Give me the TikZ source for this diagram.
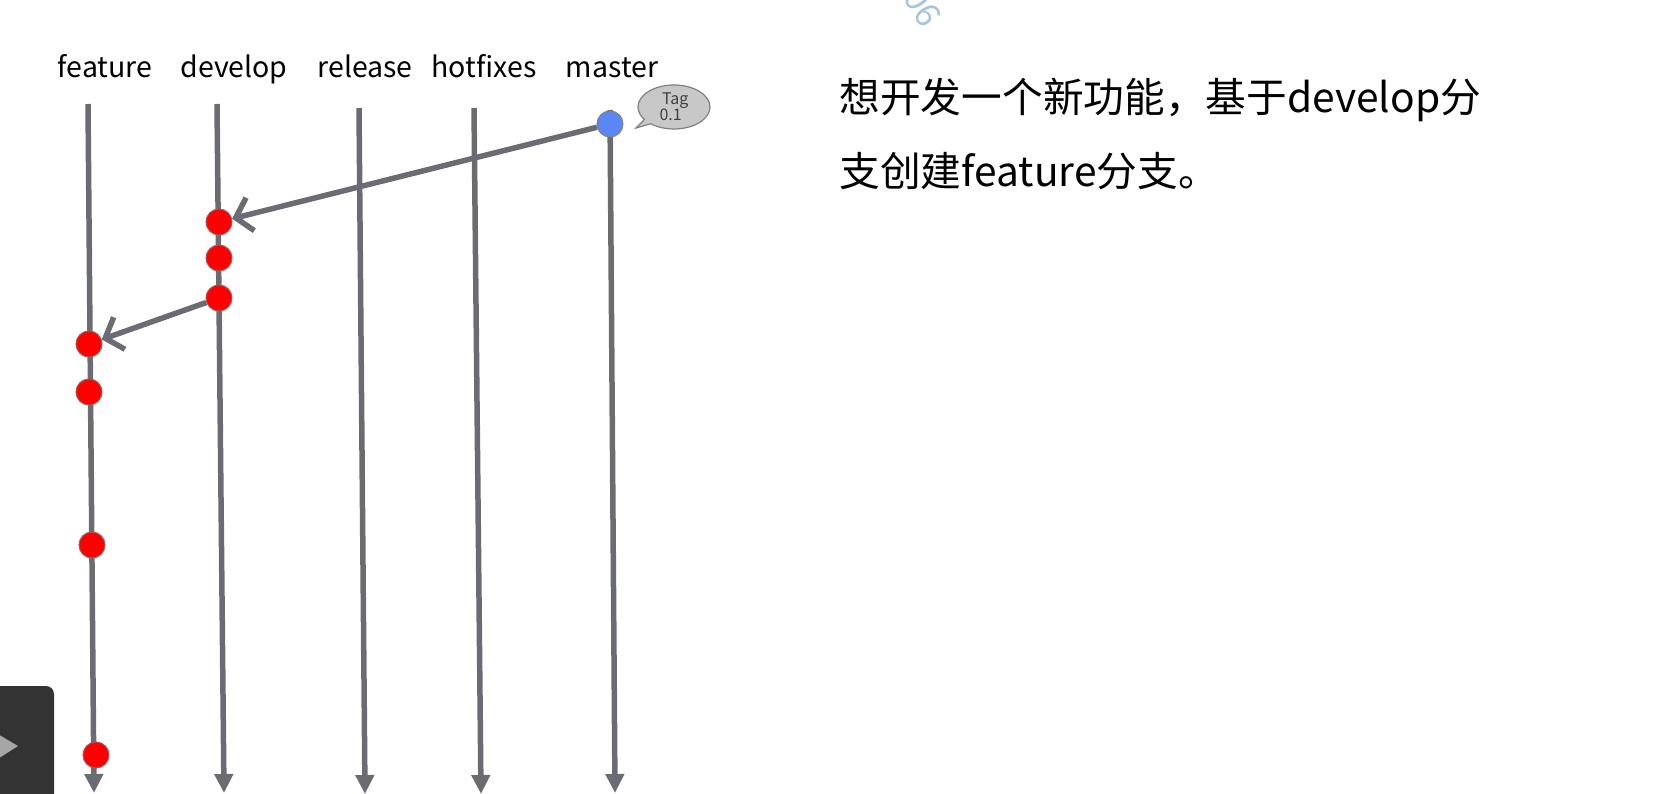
\documentclass[tikz,border=0pt]{standalone}
\usepackage{fontspec}
\setmainfont{Noto Sans CJK SC}
\usetikzlibrary{arrows.meta,shapes.callouts}

\definecolor{linegray}{HTML}{6B6C73}
\definecolor{dotedge}{HTML}{A05A5A}
\definecolor{tagfill}{HTML}{C8C8C8}
\definecolor{masterblue}{HTML}{5B87F6}
\definecolor{markblue}{HTML}{A9C4E0}

\begin{document}
\begin{tikzpicture}[x=1pt,y=-1pt,
  branch/.style={draw=linegray,line width=5.5pt,-{Triangle[width=18pt,length=19pt]}},
  commit/.style={circle,draw=dotedge,line width=1pt,fill=red,minimum size=26pt,inner sep=0pt},
  merge/.style={draw=linegray,line width=5.5pt,-{Straight Barb[length=15pt,width=34pt]}},
  title/.style={anchor=base,font=\fontsize{28.5}{30}\selectfont}]

\useasboundingbox (0,0) rectangle (1678,794);

% branch names
\node[title] (feature) at (105,78) {feature};
\node[title] (develop) at (234,78) {develop};
\node[title] (release) at (365,78) {release};
\node[title] (hotfixes) at (484,78) {hotfixes};
\node[title] (master) at (612,78) {master};

\coordinate (ftop) at (88,104);
\coordinate (fbot) at (94,793);
\coordinate (dtop) at (217,104);
\coordinate (dbot) at (224,793);
\coordinate (rtop) at (359,108);
\coordinate (rbot) at (365,794);
\coordinate (htop) at (474,108);
\coordinate (hbot) at (481,794);
\coordinate (mtop) at (610,110);
\coordinate (mbot) at (615,793);

\draw[branch] (ftop)--(fbot);
\draw[branch] (dtop)--(dbot);
\draw[branch] (rtop)--(rbot);
\draw[branch] (htop)--(hbot);
\draw[branch] (mtop)--(mbot);

% commits
\node[commit,fill=masterblue,draw=gray] (m0) at (610,124) {};
\node[commit] (d1) at (219,222) {};
\node[commit] (d2) at (219,258) {};
\node[commit] (d3) at (219,298) {};
\node[commit] (f1) at (89,344) {};
\node[commit] (f2) at (89,392) {};
\node[commit] (f3) at (92,545) {};
\node[commit] (f4) at (96,755) {};

\draw[merge] (m0)--(d1);
\draw[merge] (d3)--(f1);

\node[ellipse callout,draw=gray,fill=tagfill,line width=1.2pt,minimum width=72pt,minimum height=44pt,
  inner sep=0pt,callout absolute pointer={(636,128)},align=left,text=black!75,
  font=\fontsize{16}{16}\selectfont] (tag) at (674,107) {\,Tag\hspace{10pt}\\0.1\hspace{10pt}};

% notes
\node[anchor=west,font=\fontsize{40.7}{44}\selectfont] (note1) at (836,100) {想开发一个新功能，基于develop分};
\node[anchor=west,font=\fontsize{40.7}{44}\selectfont] (note2) at (836,171) {支创建feature分支。};

% overlay
\node[rotate=-58,text=markblue,font=\fontsize{34}{36}\selectfont] (mark) at (918,-1) {906};
\fill[black!80,rounded corners=8pt] (-10,686) rectangle (54,810);
\fill[gray!70] (-4,733) -- (18,746) -- (-4,760) -- cycle;

\end{tikzpicture}
\end{document}
